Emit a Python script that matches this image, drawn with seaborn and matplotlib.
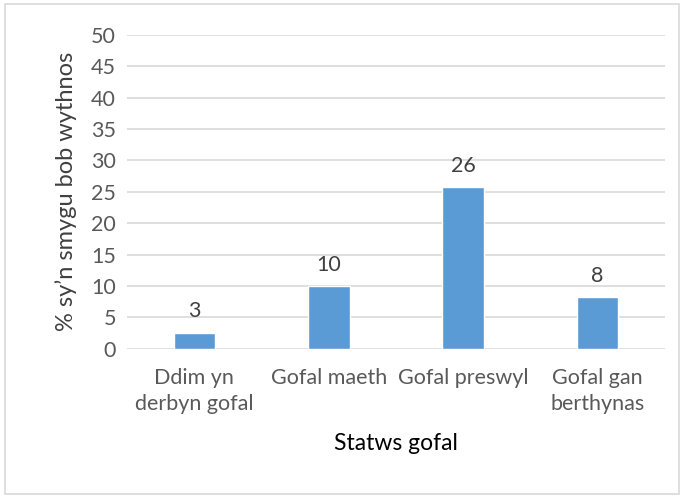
import pandas as pd
import seaborn as sns
from matplotlib import pyplot as plt
from matplotlib.patches import Rectangle

categories = ["Ddim yn\nderbyn gofal", "Gofal maeth", "Gofal preswyl", "Gofal gan\nberthynas"]
values = [2.6, 10.0, 25.7, 8.2]
labels = ["3", "10", "26", "8"]
yticks = [0, 5, 10, 15, 20, 25, 30, 35, 40, 45, 50]

df = pd.DataFrame({"statws": categories, "canran": values})

sns.set_style("white")
plt.rcParams["font.family"] = ["Lato", "DejaVu Sans"]

fig = plt.figure(figsize=(6.84, 4.97), dpi=100)
ax = fig.add_axes([0.186, 0.298, 0.786, 0.632])

# gridlines behind bars
ax.set_axisbelow(True)
ax.yaxis.grid(True, color="#D9D9D9", linewidth=1.2)

sns.barplot(data=df, x="statws", y="canran", color="#5B9BD5", width=0.31,
            saturation=1, ax=ax)

for i, (v, t) in enumerate(zip(values, labels)):
    ax.annotate(t, (i, v), xytext=(0, 8), textcoords="offset points",
                ha="center", va="bottom", fontsize=15.5, color="#404040")

ax.set_ylim(0, 50)
ax.set_yticks(yticks)
ax.set_xlim(-0.5, 3.5)
ax.tick_params(axis="both", length=0, labelsize=15.5, labelcolor="#595959")
ax.tick_params(axis="x", pad=14)
ax.tick_params(axis="y", pad=8)
for t in ax.get_xticklabels():
    t.set_linespacing(1.35)
for s in ax.spines.values():
    s.set_visible(False)

ax.set_xlabel("Statws gofal", fontsize=16.5, color="black", labelpad=14)
ax.set_ylabel("% sy\u2019n smygu bob wythnos", fontsize=17, color="#404040", labelpad=10)

# light border round the chart
fig.patches.append(Rectangle((0.008, 0.006), 0.985, 0.985, transform=fig.transFigure,
                             fill=False, edgecolor="#D9D9D9", linewidth=1.2))

fig.savefig("out.png", dpi=100)
